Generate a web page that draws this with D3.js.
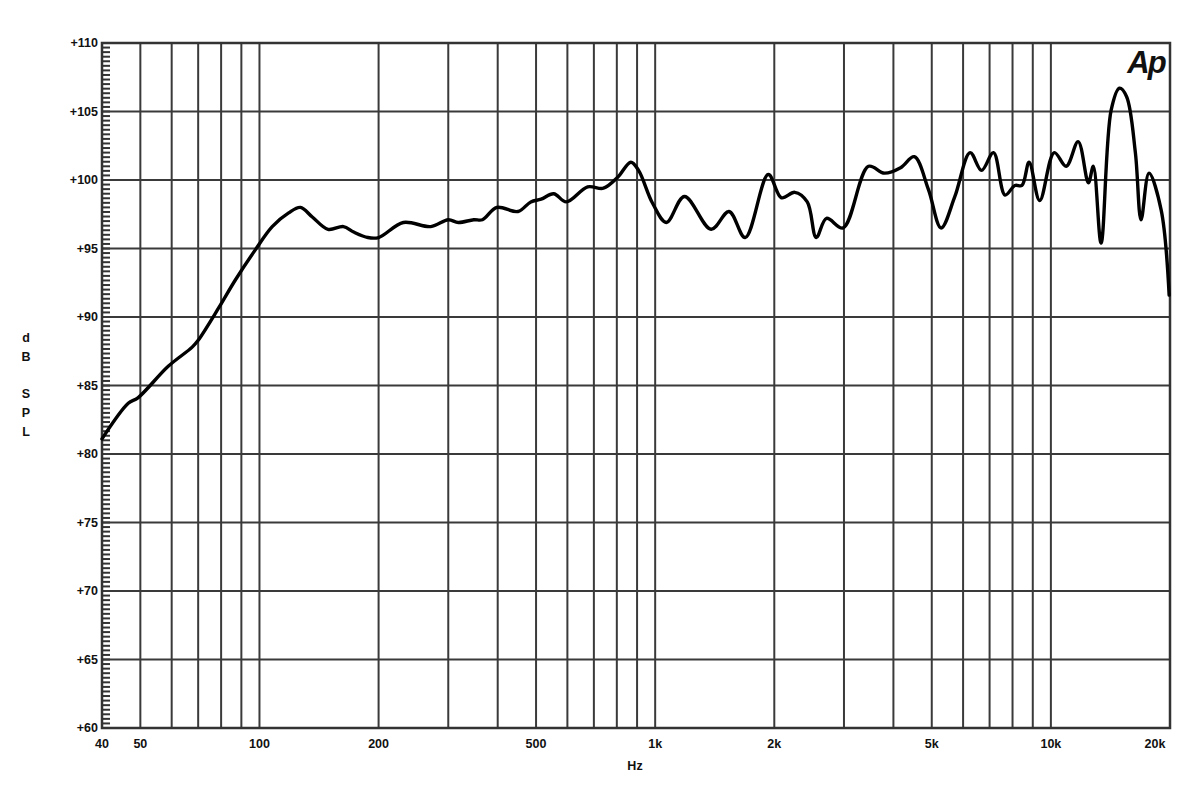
<!DOCTYPE html>
<html>
<head>
<meta charset="utf-8">
<script src="https://cdn.jsdelivr.net/npm/d3@7"></script>
<style>
  html, body { margin: 0; padding: 0; background: #fff; }
  svg text { font-family: "Liberation Sans", Arial, sans-serif; font-weight: bold; fill: #111; }
</style>
</head>
<body>
<svg id="chart" width="1200" height="800"></svg>
<script>
const freqHz = [40, 46.6, 49.3, 58.8, 67.6, 70, 79, 86.9, 97.6, 107.7, 118.5, 126.9, 136, 149, 163, 173, 188, 200, 231, 271, 300, 318, 348, 366, 398, 450, 485, 515, 554, 596, 675, 740, 804, 868, 908, 985, 1067, 1186, 1385, 1537, 1688, 1931, 2085, 2253, 2423, 2553, 2710, 2984, 3460, 3797, 4170, 4516, 4905, 5280, 5720, 6250, 6680, 7160, 7660, 8110, 8450, 8810, 9370, 10200, 10930, 11720, 12440, 12800, 13390, 14200, 14900, 15530, 16350, 16900, 17700, 19000, 19900];
const splDb = [81.1, 83.7, 84.1, 86.4, 87.8, 88.3, 90.7, 92.7, 94.9, 96.6, 97.6, 98.0, 97.3, 96.4, 96.6, 96.2, 95.8, 95.8, 96.9, 96.6, 97.1, 96.9, 97.1, 97.1, 98.0, 97.7, 98.4, 98.6, 99.0, 98.4, 99.5, 99.4, 100.2, 101.3, 100.7, 98.3, 96.9, 98.8, 96.4, 97.7, 95.8, 100.4, 98.7, 99.1, 98.4, 95.8, 97.2, 96.5, 101.0, 100.5, 100.9, 101.7, 99.3, 96.5, 98.8, 102.0, 100.7, 102.0, 98.9, 99.6, 99.6, 101.3, 98.5, 102.0, 101.0, 102.8, 99.8, 101.0, 95.4, 105.1, 106.7, 106.1, 102.0, 97.1, 100.5, 97.8, 91.6];

const gridFreqs = [50, 60, 70, 80, 90, 100, 200, 300, 400, 500, 600, 700, 800, 900, 1000, 2000, 3000, 4000, 5000, 6000, 7000, 8000, 9000, 10000];
const xTickValues = [40, 50, 100, 200, 500, 1000, 2000, 5000, 10000, 20000];
const xTickLabels = ["40", "50", "100", "200", "500", "1k", "2k", "5k", "10k", "20k"];
const yTickValues = [60, 65, 70, 75, 80, 85, 90, 95, 100, 105, 110];
const yTickLabels = ["+60", "+65", "+70", "+75", "+80", "+85", "+90", "+95", "+100", "+105", "+110"];
const yLabelLetters = ["d", "B", "", "S", "P", "L"];

const svg = d3.select("#chart");
const L = 102, R = 1170, T = 43, B = 728;

const x = d3.scaleLog().domain([40, 20000]).range([L, R]);
const y = d3.scaleLinear().domain([60, 110]).range([B, T]);

// minor ticks on left axis
const minor = d3.range(60, 110.001, 1/3);
svg.append("g").selectAll("line").data(minor).join("line")
  .attr("x1", L).attr("x2", L + 8)
  .attr("y1", d => y(d)).attr("y2", d => y(d))
  .attr("stroke", "#333").attr("stroke-width", 2);

// vertical grid
svg.append("g").selectAll("line").data(gridFreqs).join("line")
  .attr("x1", d => x(d)).attr("x2", d => x(d))
  .attr("y1", T).attr("y2", B)
  .attr("stroke", "#3a3a3a").attr("stroke-width", 2);

// horizontal grid
svg.append("g").selectAll("line").data(yTickValues).join("line")
  .attr("x1", L).attr("x2", R)
  .attr("y1", d => y(d)).attr("y2", d => y(d))
  .attr("stroke", "#3a3a3a").attr("stroke-width", 2);

// frame
svg.append("rect").attr("x", L).attr("y", T).attr("width", R - L).attr("height", B - T)
  .attr("fill", "none").attr("stroke", "#333").attr("stroke-width", 2.5);

// y tick labels
svg.append("g").selectAll("text").data(yTickValues).join("text")
  .attr("x", L - 4).attr("y", d => y(d)).attr("dy", "0.35em")
  .attr("text-anchor", "end").attr("font-size", 12.5)
  .text((d, i) => yTickLabels[i]);

// x tick labels
svg.append("g").selectAll("text").data(xTickValues).join("text")
  .attr("x", (d, i) => i === xTickValues.length - 1 ? x(d) - 15 : x(d))
  .attr("y", B + 20)
  .attr("text-anchor", "middle").attr("font-size", 12.5)
  .text((d, i) => xTickLabels[i]);

// axis titles
svg.append("text").attr("x", 635).attr("y", 770).attr("text-anchor", "middle")
  .attr("font-size", 12.5).text("Hz");
svg.append("g").selectAll("text").data(yLabelLetters).join("text")
  .attr("x", 26).attr("y", (d, i) => 342 + i * 18.8)
  .attr("text-anchor", "middle").attr("font-size", 12.5)
  .text(d => d);

// Ap logo
svg.append("text").attr("x", 1146).attr("y", 73).attr("text-anchor", "middle")
  .attr("font-size", 31).attr("font-style", "italic").attr("letter-spacing", -2)
  .style("font-weight", "900").text("Ap");

// curve
const pts = freqHz.map((f, i) => [f, splDb[i]]);
const line = d3.line().x(d => x(d[0])).y(d => y(d[1])).curve(d3.curveCatmullRom.alpha(0.5));
svg.append("path").datum(pts).attr("d", line)
  .attr("fill", "none").attr("stroke", "#000").attr("stroke-width", 3.4)
  .attr("stroke-linejoin", "round").attr("stroke-linecap", "round");
</script>
</body>
</html>
